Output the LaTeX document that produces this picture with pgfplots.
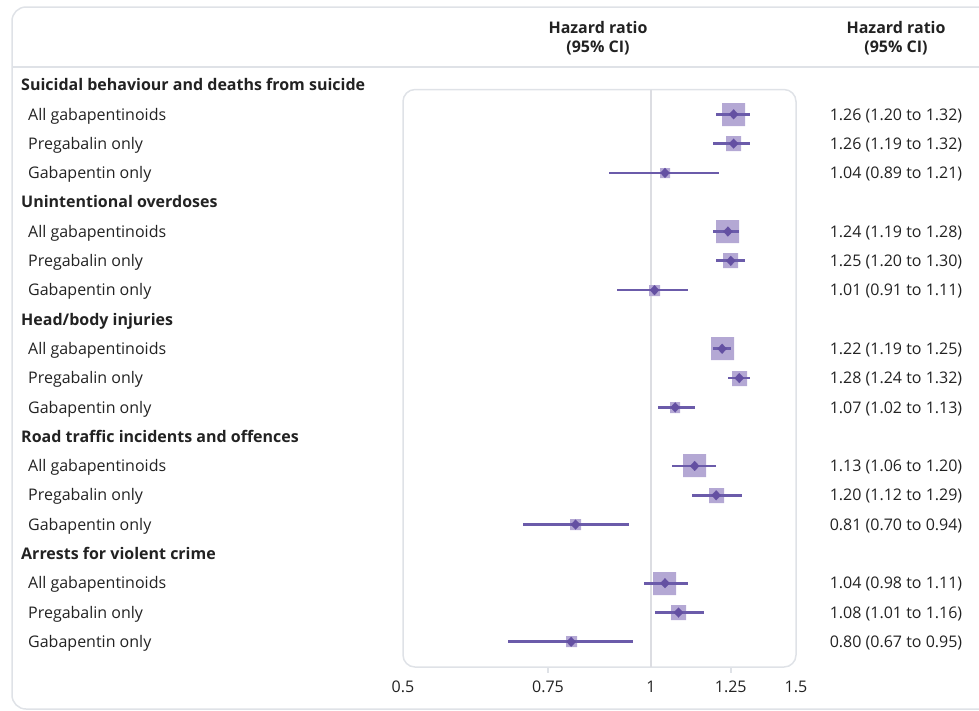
\documentclass[border=0pt]{standalone}
\usepackage{pgfplots}
\pgfplotsset{compat=1.18}
\usepackage{pgfplotstable}
\usepackage{fontspec}
\setmainfont{Open Sans}
\definecolor{ci}{HTML}{6B5BAA}
\definecolor{sq}{HTML}{B4A8D4}
\definecolor{dia}{HTML}{6450A2}
\definecolor{bord}{HTML}{DFE2E7}
\definecolor{refl}{HTML}{DCDDE2}
\definecolor{txt}{HTML}{222222}

\pgfplotstableread{
row hr   lo   hi   hs
1   1.26 1.20 1.32 11.5
2   1.26 1.19 1.32 7.5
3   1.04 0.89 1.21 5.25
5   1.24 1.19 1.28 11.5
6   1.25 1.20 1.30 7.5
7   1.01 0.91 1.11 5.5
9   1.22 1.19 1.25 11.5
10  1.28 1.24 1.32 7.5
11  1.07 1.02 1.13 5.25
13  1.13 1.06 1.20 11.5
14  1.20 1.12 1.29 7.5
15  0.81 0.70 0.94 5.5
17  1.04 0.98 1.11 11.5
18  1.08 1.01 1.16 7.5
19  0.80 0.67 0.95 5.5
}\data

\begin{document}
\fontsize{16pt}{19pt}\selectfont
\begin{tikzpicture}
\useasboundingbox (0pt,0pt) rectangle (979pt,-710pt);
\draw[bord, line width=1.5pt, rounded corners=14pt] (12pt,-7pt) rectangle (1000pt,-709pt);
\draw[bord, line width=1.5pt] (12pt,-67pt) -- (995pt,-67pt);
\node[font=\bfseries, text=txt, anchor=base, inner sep=0pt] at (598pt,-33.5pt) {Hazard ratio};
\node[font=\bfseries, text=txt, anchor=base, inner sep=0pt] at (598pt,-52pt) {(95\% CI)};
\node[font=\bfseries, text=txt, anchor=base, inner sep=0pt] at (896pt,-33.5pt) {Hazard ratio};
\node[font=\bfseries, text=txt, anchor=base, inner sep=0pt] at (896pt,-52pt) {(95\% CI)};
\begin{axis}[
  at={(403pt,-667pt)}, anchor=south west,
  scale only axis, width=393pt, height=577.5pt,
  xmode=log, xmin=0.5, xmax=1.5,
  ymin=0.154, ymax=19.86, y dir=reverse,
  axis line style={draw=none},
  ytick=\empty,
  xtick={0.5,0.75,1,1.25,1.5},
  xticklabels={0.5,0.75,1,1.25,1.5},
  major tick length=0pt,
  xticklabel style={anchor=base, yshift=-25pt, text=txt, inner sep=0pt},
  clip=false, clip mode=individual,
]
\draw[bord, line width=1.5pt, rounded corners=12pt] (rel axis cs:0,0) rectangle (rel axis cs:1,1);
\draw[refl, line width=2pt] (axis cs:1,0.154) -- (axis cs:1,19.86);
\draw[bord, line width=1.5pt] (axis cs:0.75,19.86) -- ++(0pt,-6pt);
\draw[bord, line width=1.5pt] (axis cs:1.25,19.86) -- ++(0pt,-6pt);
\addplot[sq, scatter, only marks, mark=square*,
  scatter/use mapped color={draw=sq, fill=sq, line width=0.01pt},
  visualization depends on={\thisrow{hs} \as \msz},
  scatter/@pre marker code/.append style={/tikz/mark size=\msz}]
  table[x=hr, y=row]{\data};
\addplot[dia, only marks, mark=diamond*, mark size=5pt,
  mark options={draw=dia, fill=dia, line width=0.01pt, xscale=1.25},
  error bars/.cd, x dir=both, x explicit,
  error bar style={draw=ci, line width=2.7pt}, error mark=none]
  table[x=hr, y=row, x error plus expr=\thisrow{hi}-\thisrow{hr}, x error minus expr=\thisrow{hr}-\thisrow{lo}]{\data};
\end{axis}
% left labels
\foreach \i/\lab in {0/Suicidal behaviour and deaths from suicide, 4/Unintentional overdoses, 8/{Head/body injuries}, 12/Road traffic incidents and offences, 16/Arrests for violent crime} {
  \node[anchor=base west, inner sep=0pt, font=\bfseries, text=txt] at (21pt, {-90.7pt-29.306pt*\i}) {\lab};
}
\foreach \i in {1,5,9,13,17} {
  \node[anchor=base west, inner sep=0pt, text=txt] at (28pt, {-90.7pt-29.306pt*\i}) {All gabapentinoids};
}
\foreach \i in {2,6,10,14,18} {
  \node[anchor=base west, inner sep=0pt, text=txt] at (28pt, {-90.7pt-29.306pt*\i}) {Pregabalin only};
}
\foreach \i in {3,7,11,15,19} {
  \node[anchor=base west, inner sep=0pt, text=txt] at (28pt, {-90.7pt-29.306pt*\i}) {Gabapentin only};
}
% right estimates
\foreach \i/\lab in {1/1.26 (1.20 to 1.32), 2/1.26 (1.19 to 1.32), 3/1.04 (0.89 to 1.21),
  5/1.24 (1.19 to 1.28), 6/1.25 (1.20 to 1.30), 7/1.01 (0.91 to 1.11),
  9/1.22 (1.19 to 1.25), 10/1.28 (1.24 to 1.32), 11/1.07 (1.02 to 1.13),
  13/1.13 (1.06 to 1.20), 14/1.20 (1.12 to 1.29), 15/0.81 (0.70 to 0.94),
  17/1.04 (0.98 to 1.11), 18/1.08 (1.01 to 1.16), 19/0.80 (0.67 to 0.95)} {
  \node[anchor=base, inner sep=0pt, text=txt] at (896pt, {-90.7pt-29.306pt*\i}) {\lab};
}
\end{tikzpicture}
\end{document}
